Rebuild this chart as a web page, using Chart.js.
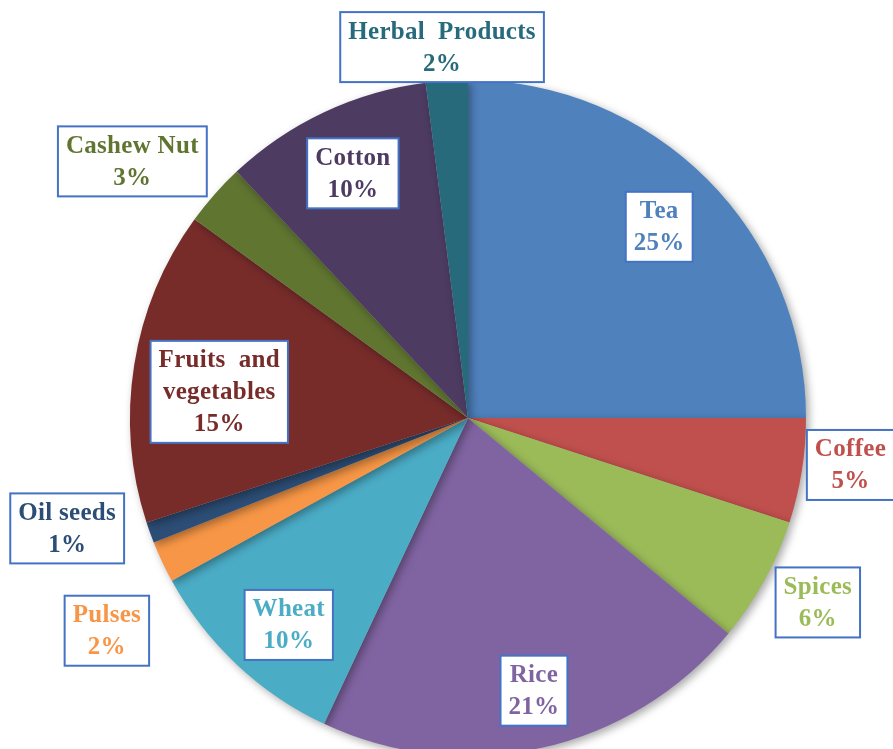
<!DOCTYPE html>
<html>
<head>
<meta charset="utf-8">
<script src="https://cdn.jsdelivr.net/npm/chart.js@4"></script>
<style>
  html, body { margin: 0; padding: 0; background: #fff; overflow: hidden; }
  #wrap { position: absolute; left: 0; top: 0; width: 893px; height: 760px; }
</style>
</head>
<body>
<div id="wrap"><canvas id="myChart"></canvas></div>
<script>
const categories = ['Tea', 'Coffee', 'Spices', 'Rice', 'Wheat', 'Pulses', 'Oil seeds', 'Fruits and vegetables', 'Cashew Nut', 'Cotton', 'Herbal Products']
const shares = [25, 5, 6, 21, 10, 2, 1, 15, 3, 10, 2]
const colors = ['#4F81BD', '#C0504D', '#9BBB59', '#8064A2', '#4BACC6', '#F79646', '#2C4D75', '#772C2A', '#5F7530', '#4D3B62', '#276A7C']

// label text lines (name lines, percent added below)
const labelLines = [['Tea'], ['Coffee'], ['Spices'], ['Rice'], ['Wheat'], ['Pulses'], ['Oil seeds'], ['Fruits  and', 'vegetables'], ['Cashew Nut'], ['Cotton'], ['Herbal  Products']]
// where the box sits: fraction of radius, angle nudge in degrees
const labelRadius = [0.80, 1.14, 1.17, 0.83, 0.81, 1.24, 1.23, 0.74, 1.25, 0.80, 1.10]
const labelNudge = [0, -2, -1, -1, -2.3, -5.3, 4.4, -3, -4, 0, -0.4]

const shadowPlugin = {
  id: 'shadow',
  beforeDatasetsDraw(chart) {
    const c = chart.ctx
    c.save()
    c.shadowColor = 'rgba(0,0,0,0.35)'
    c.shadowBlur = 9
    c.shadowOffsetX = 3
    c.shadowOffsetY = 3
  },
  afterDatasetsDraw(chart) {
    chart.ctx.restore()
  }
}

const boxLabels = {
  id: 'boxLabels',
  afterDraw(chart) {
    const c = chart.ctx
    const arcs = chart.getDatasetMeta(0).data
    c.save()
    c.font = 'bold 25px "Liberation Serif", "Times New Roman", serif'
    c.letterSpacing = '0.3px'
    c.textAlign = 'center'
    c.textBaseline = 'middle'
    arcs.forEach((arc, i) => {
      const lines = labelLines[i].concat([shares[i] + '%'])
      const mid = (arc.startAngle + arc.endAngle) / 2 + labelNudge[i] * Math.PI / 180
      const r = arc.outerRadius * labelRadius[i]
      const cx = arc.x + Math.cos(mid) * r
      const cy = arc.y + Math.sin(mid) * r
      const lineH = 32
      let w = 0
      lines.forEach(l => { w = Math.max(w, c.measureText(l).width) })
      const bw = w + 16
      const bh = lines.length * lineH + 6
      c.fillStyle = '#fff'
      c.fillRect(cx - bw / 2, cy - bh / 2, bw, bh)
      c.strokeStyle = '#4472C4'
      c.lineWidth = 2
      c.strokeRect(cx - bw / 2, cy - bh / 2, bw, bh)
      c.fillStyle = colors[i]
      lines.forEach((l, k) => {
        c.fillText(l, cx, cy - bh / 2 + 3 + lineH * (k + 0.5) + 1)
      })
    })
    c.restore()
  }
}

const ctx = document.getElementById('myChart')

const grafica = new Chart(ctx, {
  type: 'pie',
  data: {
    labels: categories,
    datasets: [{
      data: shares,
      backgroundColor: colors,
      borderWidth: 0
    }]
  },
  options: {
    responsive: true,
    maintainAspectRatio: false,
    animation: false,
    layout: { padding: { left: 130, right: 87, top: 80, bottom: 4 } },
    plugins: {
      legend: { display: false },
      tooltip: { enabled: false }
    }
  },
  plugins: [shadowPlugin, boxLabels]
})
</script>
</body>
</html>
